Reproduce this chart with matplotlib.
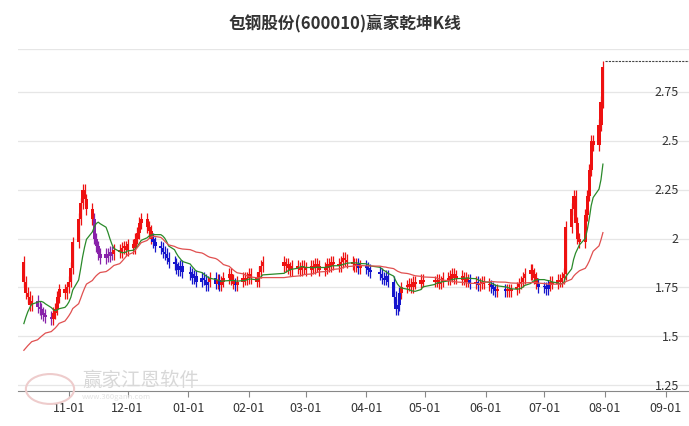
import matplotlib
matplotlib.use("Agg")
import matplotlib.pyplot as plt
import matplotlib.dates as mdates
import numpy as np
import pandas as pd

plt.rcParams['font.family'] = ['Noto Sans CJK SC', 'DejaVu Sans']

title = "包钢股份(600010)赢家乾坤K线"
pre_closes = [1.36]*20 + [1.40, 1.42, 1.45, 1.50, 1.55, 1.60, 1.62, 1.65, 1.68]
closes_oct = [1.78, 1.72, 1.70, 1.66, 1.68, 1.65, 1.64, 1.62, 1.61, 1.60, 1.59, 1.62, 1.64, 1.70, 1.74, 1.72, 1.75]
closes_nov = [1.78, 1.85, 1.98, 2.10, 2.18, 2.25, 2.20, 2.15, 2.10, 2.00, 1.96, 1.92, 1.90, 1.92, 1.91, 1.93, 1.92, 1.94, 1.93, 1.95, 1.96, 1.94]
closes_dec = [1.97, 1.95, 2.00, 2.03, 2.08, 2.10, 2.06, 2.04, 2.00, 1.98, 1.96, 1.95, 1.93, 1.92, 1.90, 1.88, 1.87, 1.85, 1.84, 1.86, 1.83]
closes_jan = [1.82, 1.80, 1.81, 1.78, 1.80, 1.79, 1.76, 1.78, 1.80, 1.77, 1.79, 1.76, 1.78, 1.80, 1.82, 1.79, 1.77, 1.76, 1.78, 1.80, 1.79, 1.80]
closes_feb = [1.82, 1.80, 1.78, 1.83, 1.86, 1.88, 1.86, 1.87, 1.85, 1.84, 1.86, 1.85, 1.84, 1.86, 1.85]
closes_mar = [1.84, 1.86, 1.85, 1.87, 1.86, 1.84, 1.85, 1.87, 1.86, 1.88, 1.87, 1.86, 1.88, 1.90, 1.89, 1.88, 1.87, 1.86, 1.87, 1.85, 1.86]
closes_apr = [1.85, 1.84, 1.83, 1.82, 1.80, 1.79, 1.81, 1.78, 1.70, 1.64, 1.66, 1.72, 1.75, 1.76, 1.77, 1.75, 1.78, 1.77, 1.79, 1.78]
closes_may = [1.78, 1.79, 1.77, 1.78, 1.80, 1.79, 1.81, 1.82, 1.80, 1.81, 1.79, 1.80, 1.78, 1.79, 1.77, 1.78, 1.76, 1.77, 1.78, 1.77]
closes_jun = [1.76, 1.75, 1.74, 1.73, 1.74, 1.73, 1.74, 1.73, 1.74, 1.75, 1.77, 1.78, 1.80, 1.82, 1.84, 1.82, 1.80, 1.77, 1.75]
closes_jul = [1.75, 1.74, 1.76, 1.78, 1.77, 1.79, 1.78, 1.80, 1.82, 2.06, 2.15, 2.22, 2.08, 2.00, 1.98, 2.12, 2.22, 2.35, 2.50, 2.48, 2.58, 2.70, 2.88]
closes = (closes_oct + closes_nov + closes_dec + closes_jan + closes_feb + closes_mar
          + closes_apr + closes_may + closes_jun + closes_jul)
yticks = [1.25, 1.5, 1.75, 2.0, 2.25, 2.5, 2.75]
ytick_labels = ["1.25", "1.5", "1.75", "2", "2.25", "2.5", "2.75"]
xtick_dates = ["2023-11-01", "2023-12-01", "2024-01-01", "2024-02-01", "2024-03-01", "2024-04-01",
               "2024-05-01", "2024-06-01", "2024-07-01", "2024-08-01", "2024-09-01"]
xtick_labels = ["11-01", "12-01", "01-01", "02-01", "03-01", "04-01", "05-01", "06-01", "07-01", "08-01", "09-01"]
holidays = ["2024-01-01", "2024-02-09", "2024-02-12", "2024-02-13", "2024-02-14", "2024-02-15",
            "2024-02-16", "2024-04-04", "2024-04-05", "2024-05-01", "2024-05-02", "2024-05-03", "2024-06-10"]

days = pd.bdate_range("2023-10-09", "2024-07-31")
days = days[~days.isin(pd.to_datetime(holidays))]
n = min(len(days), len(closes))
days = days[:n]; closes = closes[:n]

allc = pd.Series(pre_closes + closes)
ma_g = allc.rolling(10).mean().values[len(pre_closes):]
ma_r = allc.rolling(30).mean().values[len(pre_closes):]
c = np.array(closes)
o = np.array([pre_closes[-1] + 0.2] + closes[:-1])
hi = np.maximum(o, c) + 0.03
lo = np.minimum(o, c) - 0.03

x = mdates.date2num(days)
fig = plt.figure(figsize=(6.89, 4.27), dpi=100)
ax = fig.add_axes([18/689, 35/427, 671/689, 342/427])
RED, BLUE, PUR = "#ee1111", "#1515cc", "#8822aa"
cols = []
for i in range(n):
    if c[i] >= ma_g[i] - 0.02:
        cols.append(RED)
    elif c[i] >= ma_r[i]:
        cols.append(PUR)
    else:
        cols.append(BLUE)
ax.vlines(x, lo, hi, colors=cols, lw=0.9, zorder=3)
ax.bar(x, np.maximum(np.abs(c - o), 0.008), bottom=np.minimum(o, c), width=1.6, color=cols, lw=0, zorder=3)
ax.plot(x, ma_g, color="#2a8a2a", lw=0.9, zorder=4)
ax.plot(x, ma_r, color="#e05050", lw=0.9, zorder=4)

xmax = mdates.date2num(pd.Timestamp("2024-09-13"))
top = max(hi[-1], c[-1])
ax.plot([x[-1] + 1, xmax], [top, top], color="#444444", lw=0.8, ls=(0, (2, 1)), zorder=4)

ax.set_xlim(mdates.date2num(pd.Timestamp("2023-10-06")), xmax)
ax.set_ylim(1.22, 2.97)
for yv in yticks + [2.97]:
    ax.axhline(yv, color="#e6e6e6", lw=0.9, zorder=0)
for yv, lab in zip(yticks, ytick_labels):
    ax.text(0.985, yv, lab, transform=ax.get_yaxis_transform(), ha="right", va="center", fontsize=9, color="#333333")
ax.set_yticks([])
ax.set_xticks(mdates.date2num(pd.to_datetime(xtick_dates)))
ax.set_xticklabels(xtick_labels, fontsize=9, color="#333333")
ax.tick_params(axis="x", length=4, color="#888888")
for s in ["top", "right", "left"]:
    ax.spines[s].set_visible(False)
ax.spines["bottom"].set_color("#888888")
fig.text(0.5, 0.945, title, ha="center", va="center", fontsize=12, fontweight="bold", color="#333333")
fig.text(82/689, 1 - 380/427, "赢家江恩软件", fontsize=14, color="#d8d8d8", va="center", zorder=10)
fig.text(82/689, 1 - 397/427, "www.360gann.com", fontsize=5.5, color="#e2e2e2", va="center", zorder=10)
circ = plt.Circle((50/689, 1 - 390/427), 0.035, transform=fig.transFigure, fill=False, ec="#eecccc", lw=1.5)
fig.add_artist(circ)
fig.savefig("out.png", dpi=100)
